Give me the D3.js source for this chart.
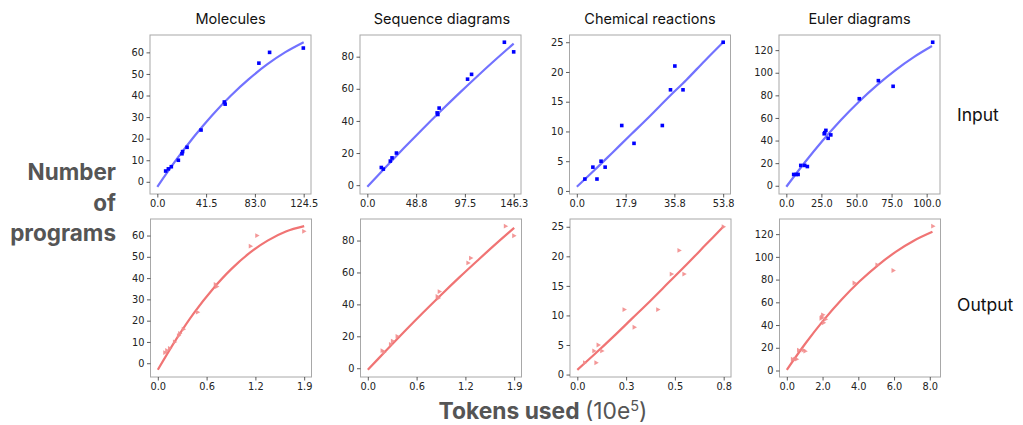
<!DOCTYPE html>
<html><head><meta charset="utf-8">
<script src="https://cdn.jsdelivr.net/npm/d3@7"></script>
<style>
html,body{margin:0;padding:0;background:#fff;}
svg{display:block;}
</style></head>
<body>
<svg id="chart" width="1023" height="425"></svg>
<script>
// ---------- data ----------
const categories = ["Molecules", "Sequence diagrams", "Chemical reactions", "Euler diagrams"];
const rowLabels = ["Input", "Output"];

// Number of programs (y) shared by input / output of each category
const molY   = [5, 6, 7, 10, 13, 14, 16, 24, 36, 37, 55, 60, 62];
const seqY   = [11, 10, 15, 17, 20, 45, 44, 48, 66, 69, 89, 83];
const chemY  = [2, 4, 2, 5, 4, 11, 8, 11, 17, 21, 17, 25];
const eulerY = [10, 10, 10, 18, 18, 17, 46, 47, 49, 42, 45, 77, 93, 88, 127];

// Input tokens
const molInX   = [7.1, 9.4, 11.9, 17.9, 21.0, 21.5, 25.3, 37.2, 57.7, 57.0, 86.4, 95.5, 124.2];
const seqInX   = [14.0, 16.0, 23.0, 24.7, 29.1, 69.8, 70.5, 71.8, 100.2, 104.2, 137.0, 146.3];
const chemInX  = [2.96, 5.9, 7.4, 8.9, 10.4, 16.5, 21.0, 31.4, 34.4, 36.0, 39.0, 53.75];
const eulerInX = [5.25, 7.0, 8.4, 10.3, 13.1, 15.0, 27.0, 27.4, 28.2, 29.8, 31.7, 52.0, 65.6, 76.1, 104.3];

// Output tokens
const molOutX   = [0.095, 0.12, 0.155, 0.219, 0.27, 0.285, 0.331, 0.512, 0.757, 0.74, 1.187, 1.27, 1.87];
const seqOutX   = [0.188, 0.209, 0.295, 0.32, 0.38, 0.892, 0.905, 0.918, 1.285, 1.319, 1.763, 1.87];
const chemOutX  = [0.042, 0.093, 0.104, 0.116, 0.136, 0.258, 0.313, 0.442, 0.516, 0.558, 0.585, 0.8];
const eulerOutX = [0.34, 0.47, 0.56, 0.68, 0.94, 1.04, 1.94, 1.98, 2.03, 2.07, 2.18, 3.79, 5.07, 5.97, 8.19];

// Fitted trend lines
const molInFitX  = [0, 15.56, 31.13, 46.69, 62.25, 77.81, 93.38, 108.94, 124.5];
const molInFitY  = [-2.3, 9.8, 20.9, 30.9, 39.8, 47.6, 54.4, 60.1, 64.7];
const seqInFitX  = [0, 18.29, 36.58, 54.86, 73.15, 91.44, 109.73, 128.01, 146.3];
const seqInFitY  = [-1.0, 11.2, 23.1, 34.7, 46.0, 57.0, 67.7, 78.1, 88.1];
const chemInFitX = [0, 6.72, 13.44, 20.16, 26.88, 33.59, 40.31, 47.03, 53.75];
const chemInFitY = [0.7, 3.6, 6.6, 9.6, 12.6, 15.7, 18.7, 21.9, 25.0];
const eulerInFitX = [0, 12.98, 25.95, 38.93, 51.9, 64.88, 77.85, 90.83, 103.8];
const eulerInFitY = [-0.9, 20.4, 40.1, 58.2, 74.6, 89.3, 102.4, 113.8, 123.6];
const molOutFitX  = [0, 0.234, 0.4675, 0.701, 0.935, 1.169, 1.4025, 1.636, 1.87];
const molOutFitY  = [-3.1, 11.2, 23.9, 34.8, 44.1, 51.7, 57.6, 61.9, 64.4];
const seqOutFitX  = [0, 0.234, 0.4675, 0.701, 0.935, 1.169, 1.4025, 1.636, 1.87];
const seqOutFitY  = [-1.0, 11.1, 23.0, 34.6, 45.9, 56.9, 67.5, 77.9, 87.9];
const chemOutFitX = [0, 0.1, 0.2, 0.3, 0.4, 0.5, 0.6, 0.7, 0.8];
const chemOutFitY = [0.8, 3.6, 6.5, 9.5, 12.5, 15.6, 18.7, 21.9, 25.1];
const eulerOutFitX = [0, 1.019, 2.0375, 3.056, 4.075, 5.094, 6.1125, 7.131, 8.15];
const eulerOutFitY = [0.6, 23.3, 43.9, 62.3, 78.5, 92.6, 104.6, 114.4, 122.0];

// Tick values / labels
const molInXTicks = [0, 41.5, 83, 124.5],          molInXLabels = ["0.0", "41.5", "83.0", "124.5"];
const seqInXTicks = [0, 48.77, 97.53, 146.3],      seqInXLabels = ["0.0", "48.8", "97.5", "146.3"];
const chemInXTicks = [0, 17.92, 35.83, 53.75],     chemInXLabels = ["0.0", "17.9", "35.8", "53.8"];
const eulerInXTicks = [0, 25, 50, 75, 100],        eulerInXLabels = ["0.0", "25.0", "50.0", "75.0", "100.0"];
const molOutXTicks = [0, 0.6233, 1.2467, 1.87],    molOutXLabels = ["0.0", "0.6", "1.2", "1.9"];
const seqOutXTicks = [0, 0.6233, 1.2467, 1.87],    seqOutXLabels = ["0.0", "0.6", "1.2", "1.9"];
const chemOutXTicks = [0, 0.2667, 0.5333, 0.8],    chemOutXLabels = ["0.0", "0.3", "0.5", "0.8"];
const eulerOutXTicks = [0, 2, 4, 6, 8],            eulerOutXLabels = ["0.0", "2.0", "4.0", "6.0", "8.0"];
const molYTicks = [0, 10, 20, 30, 40, 50, 60];
const seqYTicks = [0, 20, 40, 60, 80];
const chemYTicks = [0, 5, 10, 15, 20, 25];
const eulerYTicks = [0, 20, 40, 60, 80, 100, 120];

const yLabelLines = ["Number", "of", "programs"];
const xLabelBold = "Tokens used";
const xLabelUnit = "(10e";
const xLabelExp = "5";

// ---------- assemble ----------
const panels = [
  [ {x: molInX, y: molY, fx: molInFitX, fy: molInFitY, xt: molInXTicks, xl: molInXLabels, yt: molYTicks},
    {x: seqInX, y: seqY, fx: seqInFitX, fy: seqInFitY, xt: seqInXTicks, xl: seqInXLabels, yt: seqYTicks},
    {x: chemInX, y: chemY, fx: chemInFitX, fy: chemInFitY, xt: chemInXTicks, xl: chemInXLabels, yt: chemYTicks},
    {x: eulerInX, y: eulerY, fx: eulerInFitX, fy: eulerInFitY, xt: eulerInXTicks, xl: eulerInXLabels, yt: eulerYTicks} ],
  [ {x: molOutX, y: molY, fx: molOutFitX, fy: molOutFitY, xt: molOutXTicks, xl: molOutXLabels, yt: molYTicks},
    {x: seqOutX, y: seqY, fx: seqOutFitX, fy: seqOutFitY, xt: seqOutXTicks, xl: seqOutXLabels, yt: seqYTicks},
    {x: chemOutX, y: chemY, fx: chemOutFitX, fy: chemOutFitY, xt: chemOutXTicks, xl: chemOutXLabels, yt: chemYTicks},
    {x: eulerOutX, y: eulerY, fx: eulerOutFitX, fy: eulerOutFitY, xt: eulerOutXTicks, xl: eulerOutXLabels, yt: eulerYTicks} ]
];

const svg = d3.select("#chart");
svg.append("rect").attr("width", 1023).attr("height", 425).attr("fill", "#fff");

const lefts = [150, 360, 569.5, 779];
const tops = [35, 219];
const pw = 161, ph = [159, 158];
const tickFont = "'DejaVu Sans', sans-serif";
const labelFont = "Inter, 'Liberation Sans', sans-serif";

function padded(vals) {
  const lo = d3.min(vals), hi = d3.max(vals), p = (hi - lo) * 0.05;
  return [lo - p, hi + p];
}

panels.forEach((row, r) => {
  row.forEach((p, c) => {
    const x0 = lefts[c] + (r ? 0.5 : 0), y0 = tops[r], h = ph[r];
    const g = svg.append("g").attr("transform", `translate(${x0},${y0})`);
    const xs = d3.scaleLinear().domain(padded(p.x.concat(p.fx))).range([0, pw]);
    const ys = d3.scaleLinear().domain(padded(p.y.concat(p.fy))).range([h, 0]);

    const pts = p.x.map((v, i) => [v, p.y[i]]);
    const fit = p.fx.map((v, i) => [v, p.fy[i]]);
    const line = d3.line().x(d => xs(d[0])).y(d => ys(d[1])).curve(d3.curveCatmullRom);

    if (r === 0) {
      g.append("path").datum(fit).attr("d", line)
        .attr("fill", "none").attr("stroke", "#7272ff").attr("stroke-width", 2.2);
      g.selectAll("rect.pt").data(pts).join("rect").attr("class", "pt")
        .attr("x", d => xs(d[0]) - 1.8).attr("y", d => ys(d[1]) - 1.8)
        .attr("width", 3.6).attr("height", 3.6).attr("fill", "#0000ff");
    } else {
      g.append("path").datum(fit).attr("d", line)
        .attr("fill", "none").attr("stroke", "#f07474").attr("stroke-width", 2.2);
      g.selectAll("path.pt").data(pts).join("path").attr("class", "pt")
        .attr("d", d => {
          const cx = xs(d[0]), cy = ys(d[1]);
          return `M${cx - 2},${cy - 2.4}L${cx + 2.4},${cy}L${cx - 2},${cy + 2.4}Z`;
        })
        .attr("fill", "#f28c8c").attr("opacity", 0.9);
    }

    // spines
    g.append("rect").attr("x", 0).attr("y", 0).attr("width", pw).attr("height", h)
      .attr("fill", "none").attr("stroke", "#a8a8a8").attr("stroke-width", 1);

    const xa = g.append("g").attr("transform", `translate(0,${h})`)
      .call(d3.axisBottom(xs).tickValues(p.xt).tickFormat((d, i) => p.xl[i])
        .tickSize(3.5).tickSizeOuter(0).tickPadding(2.5));
    const ya = g.append("g")
      .call(d3.axisLeft(ys).tickValues(p.yt).tickFormat(d3.format("d"))
        .tickSize(3.5).tickSizeOuter(0).tickPadding(2.5));
    [xa, ya].forEach(a => {
      a.select(".domain").remove();
      a.selectAll(".tick line").attr("stroke", "#333").attr("stroke-width", 0.8);
      a.selectAll("text").attr("font-family", tickFont).attr("font-size", 9.8).attr("fill", "#222");
    });

    if (r === 0) {
      svg.append("text").attr("x", x0 + pw / 2 + (c === 1 ? 1.5 : 0)).attr("y", 24)
        .attr("text-anchor", "middle").attr("font-family", labelFont)
        .attr("font-size", 14.5).attr("fill", "#111").text(categories[c]);
    }
  });
});

// row labels
svg.append("text").attr("x", 957).attr("y", 121).attr("font-family", labelFont)
  .attr("font-size", 17.5).attr("fill", "#111").text(rowLabels[0]);
svg.append("text").attr("x", 957).attr("y", 311).attr("font-family", labelFont)
  .attr("font-size", 17.5).attr("fill", "#111").text(rowLabels[1]);

// y label
yLabelLines.forEach((t, i) => {
  svg.append("text").attr("x", 116).attr("y", 180 + i * 30.5).attr("text-anchor", "end")
    .attr("font-family", labelFont).attr("font-weight", 700).attr("font-size", 22.5)
    .attr("fill", "#555").text(t);
});

// x label
const xl = svg.append("text").attr("x", 543).attr("y", 419).attr("text-anchor", "middle")
  .attr("font-family", labelFont).attr("font-size", 22.8).attr("fill", "#555");
xl.append("tspan").attr("font-weight", 700).text(xLabelBold + " ");
xl.append("tspan").attr("font-weight", 400).text(xLabelUnit);
xl.append("tspan").attr("font-weight", 400).attr("font-size", 14.5).attr("dy", -8.5).text(xLabelExp);
xl.append("tspan").attr("font-weight", 400).attr("dy", 8.5).text(")");
</script>
</body></html>
